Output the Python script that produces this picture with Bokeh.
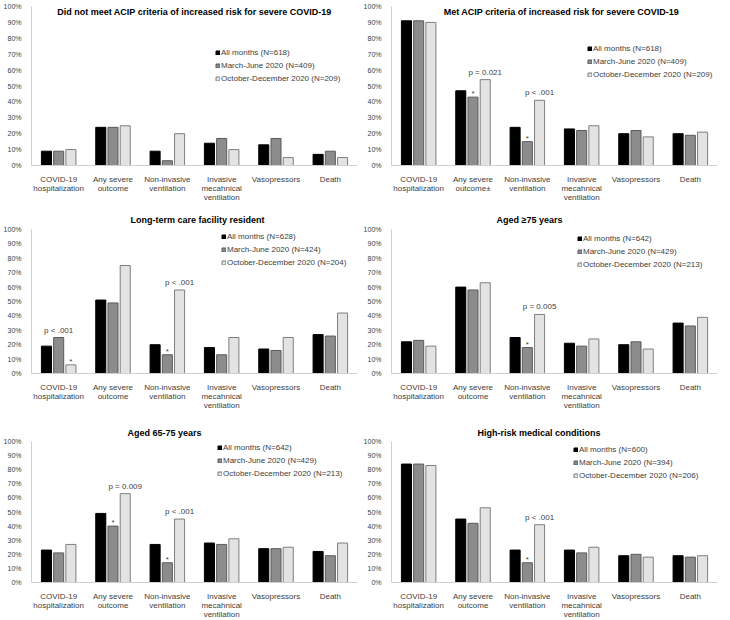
from bokeh.plotting import figure
from bokeh.models import Legend, LegendItem, Label, FixedTicker
from bokeh.layouts import gridplot
from bokeh.embed import file_html
from bokeh.resources import INLINE
from bokeh.core.properties import value

# ---------------- data ----------------
categories = ["COVID-19\nhospitalization", "Any severe\noutcome", "Non-invasive\nventilation",
              "Invasive\nmecahnical\nventilation", "Vasopressors", "Death"]
categories_met = ["COVID-19\nhospitalization", "Any severe\noutcome\u00b1", "Non-invasive\nventilation",
                  "Invasive\nmecahnical\nventilation", "Vasopressors", "Death"]

titles = ["Did not meet ACIP criteria of increased risk for severe COVID-19",
          "Met ACIP criteria of increased risk for severe COVID-19",
          "Long-term care facility resident",
          "Aged \u226575 years",
          "Aged 65-75 years",
          "High-risk medical conditions"]

series_names = ["All months", "March-June 2020", "October-December 2020"]
series_n = [[618, 409, 209], [618, 409, 209], [628, 424, 204],
            [642, 429, 213], [642, 429, 213], [600, 394, 206]]

did_not_meet_all = [9, 24, 9, 14, 13, 7]
did_not_meet_mar = [9, 24, 3, 17, 17, 9]
did_not_meet_oct = [10, 25, 20, 10, 5, 5]

met_all = [91, 47, 24, 23, 20, 20]
met_mar = [91, 43, 15, 22, 22, 19]
met_oct = [90, 54, 41, 25, 18, 21]

ltcf_all = [19, 51, 20, 18, 17, 27]
ltcf_mar = [25, 49, 13, 13, 16, 26]
ltcf_oct = [6, 75, 58, 25, 25, 42]

age75_all = [22, 60, 25, 21, 20, 35]
age75_mar = [23, 58, 18, 19, 22, 33]
age75_oct = [19, 63, 41, 24, 17, 39]

age65_all = [23, 49, 27, 28, 24, 22]
age65_mar = [21, 40, 14, 27, 24, 19]
age65_oct = [27, 63, 45, 31, 25, 28]

hr_all = [84, 45, 23, 23, 19, 19]
hr_mar = [84, 42, 14, 21, 20, 18]
hr_oct = [83, 53, 41, 25, 18, 19]

panel_values = [
    [did_not_meet_all, did_not_meet_mar, did_not_meet_oct],
    [met_all, met_mar, met_oct],
    [ltcf_all, ltcf_mar, ltcf_oct],
    [age75_all, age75_mar, age75_oct],
    [age65_all, age65_mar, age65_oct],
    [hr_all, hr_mar, hr_oct],
]

# annotations: (panel, category index, series index, text)
annotations = [
    (1, 1, 2, "p = 0.021"), (1, 1, 1, "*"), (1, 2, 2, "p < .001"), (1, 2, 1, "*"),
    (2, 0, 1, "p < .001"), (2, 0, 2, "*"), (2, 2, 2, "p < .001"), (2, 2, 1, "*"),
    (3, 2, 2, "p = 0.005"), (3, 2, 1, "*"),
    (4, 1, 2, "p = 0.009"), (4, 1, 1, "*"), (4, 2, 2, "p < .001"), (4, 2, 1, "*"),
    (5, 2, 2, "p < .001"), (5, 2, 1, "*"),
]

y_ticks = list(range(0, 101, 10))
y_tick_labels = ["%d%%" % t for t in y_ticks]

# ---------------- style / layout ----------------
FONT = "Liberation Sans"
fills = ["#000000", "#8c8c8c", "#e3e3e3"]
lines = ["#000000", "#5a5a5a", "#7f7f7f"]
offsets = [-0.225, 0.0, 0.225]
bar_w = 0.185

frame_w = 326
frame_heights = [159, 144, 141]
top_borders = [6, 24, 28]
title_standoff = [0, 10, 8]
# row 1: x shift from frame centre; rows 2-3: left position of title text within frame
title_pos = [0, 7, 99, 105, 96, 86]
legend_x = [184, 196, 190, 186, 186, 182]
legend_first_center = [46, 43, 8, 9, 7, 9]
LEG_ITEM_H = 13


def make_panel(i):
    row = i // 2
    fh = frame_heights[row]
    p = figure(frame_width=frame_w, frame_height=fh, x_range=(-0.5, 5.5), y_range=(0, 100),
               output_backend="svg", toolbar_location=None,
               min_border_left=28, min_border_right=3,
               min_border_top=top_borders[row], min_border_bottom=0)
    p.outline_line_color = None
    p.xgrid.visible = False
    p.ygrid.visible = False

    vals = panel_values[i]
    items = []
    for s in range(3):
        xs = [c + offsets[s] for c in range(len(categories))]
        r = p.vbar(x=xs, top=vals[s], width=bar_w, bottom=0,
                   fill_color=fills[s], line_color=lines[s], line_width=1)
        items.append(LegendItem(label="%s (N=%d)" % (series_names[s], series_n[i][s]), renderers=[r]))

    # annotations
    px, py, pt, sx, sy, st = [], [], [], [], [], []
    for (pi, ci, si, txt) in annotations:
        if pi != i:
            continue
        x = ci + offsets[si]
        y = vals[si][ci]
        if txt == "*":
            sx.append(x); sy.append(y); st.append(txt)
        else:
            px.append(x); py.append(y); pt.append(txt)
    if pt:
        p.text(x=px, y=py, text=pt, text_align="center", text_baseline="bottom",
               text_font=value(FONT), text_font_size="8px", text_color="#404040", y_offset=-3)
    if st:
        p.text(x=sx, y=sy, text=st, text_align="center", text_baseline="bottom",
               text_font=value(FONT), text_font_size="8px", text_color="#404040", y_offset=1)

    top_of_legend = legend_first_center[i] - LEG_ITEM_H / 2
    legend = Legend(items=items,
                    location=(legend_x[i], int(round(fh - top_of_legend - 3 * LEG_ITEM_H))),
                    label_text_font=FONT, label_text_font_size="8px", label_text_color="#404040",
                    glyph_width=5, glyph_height=5, label_height=LEG_ITEM_H, label_standoff=1,
                    spacing=0, padding=0, margin=0,
                    border_line_color=None, background_fill_alpha=0)
    p.add_layout(legend)

    # axes
    p.yaxis.ticker = FixedTicker(ticks=y_ticks)
    p.yaxis.major_label_overrides = {t: l for t, l in zip(y_ticks, y_tick_labels)}
    cats = categories_met if i == 1 else categories
    p.xaxis.ticker = FixedTicker(ticks=list(range(len(cats))))
    p.xaxis.major_label_overrides = {k: c for k, c in enumerate(cats)}
    for ax in (p.xaxis, p.yaxis):
        ax.major_tick_line_color = None
        ax.minor_tick_line_color = None
        ax.axis_line_color = "#d0d0d0"
        ax.major_label_text_font = FONT
        ax.major_label_text_color = "#404040"
        ax.major_label_standoff = 4
    p.xaxis.major_label_text_font_size = "8px"
    p.xaxis.major_label_text_line_height = 1.05
    p.xaxis.major_label_standoff = 3
    p.yaxis.major_label_text_font_size = "7px"

    if row == 0:
        p.add_layout(Label(x=2.5, y=100, text=titles[i], text_align="center",
                           text_baseline="top", x_offset=title_pos[i], y_offset=0,
                           text_font=FONT, text_font_size="9px", text_font_style="bold",
                           text_color="#000000"))
    else:
        p.title.text = titles[i]
        p.title.align = "left"
        p.title.offset = title_pos[i]
        p.title.standoff = title_standoff[row]
        p.title.text_font = FONT
        p.title.text_font_size = "9px"
        p.title.text_font_style = "bold"
        p.title.text_color = "#000000"
    return p


panels = [make_panel(i) for i in range(6)]
grid = gridplot([[panels[0], panels[1]], [panels[2], panels[3]], [panels[4], panels[5]]],
                toolbar_location=None)

open("out.html", "w").write(file_html(grid, INLINE))
